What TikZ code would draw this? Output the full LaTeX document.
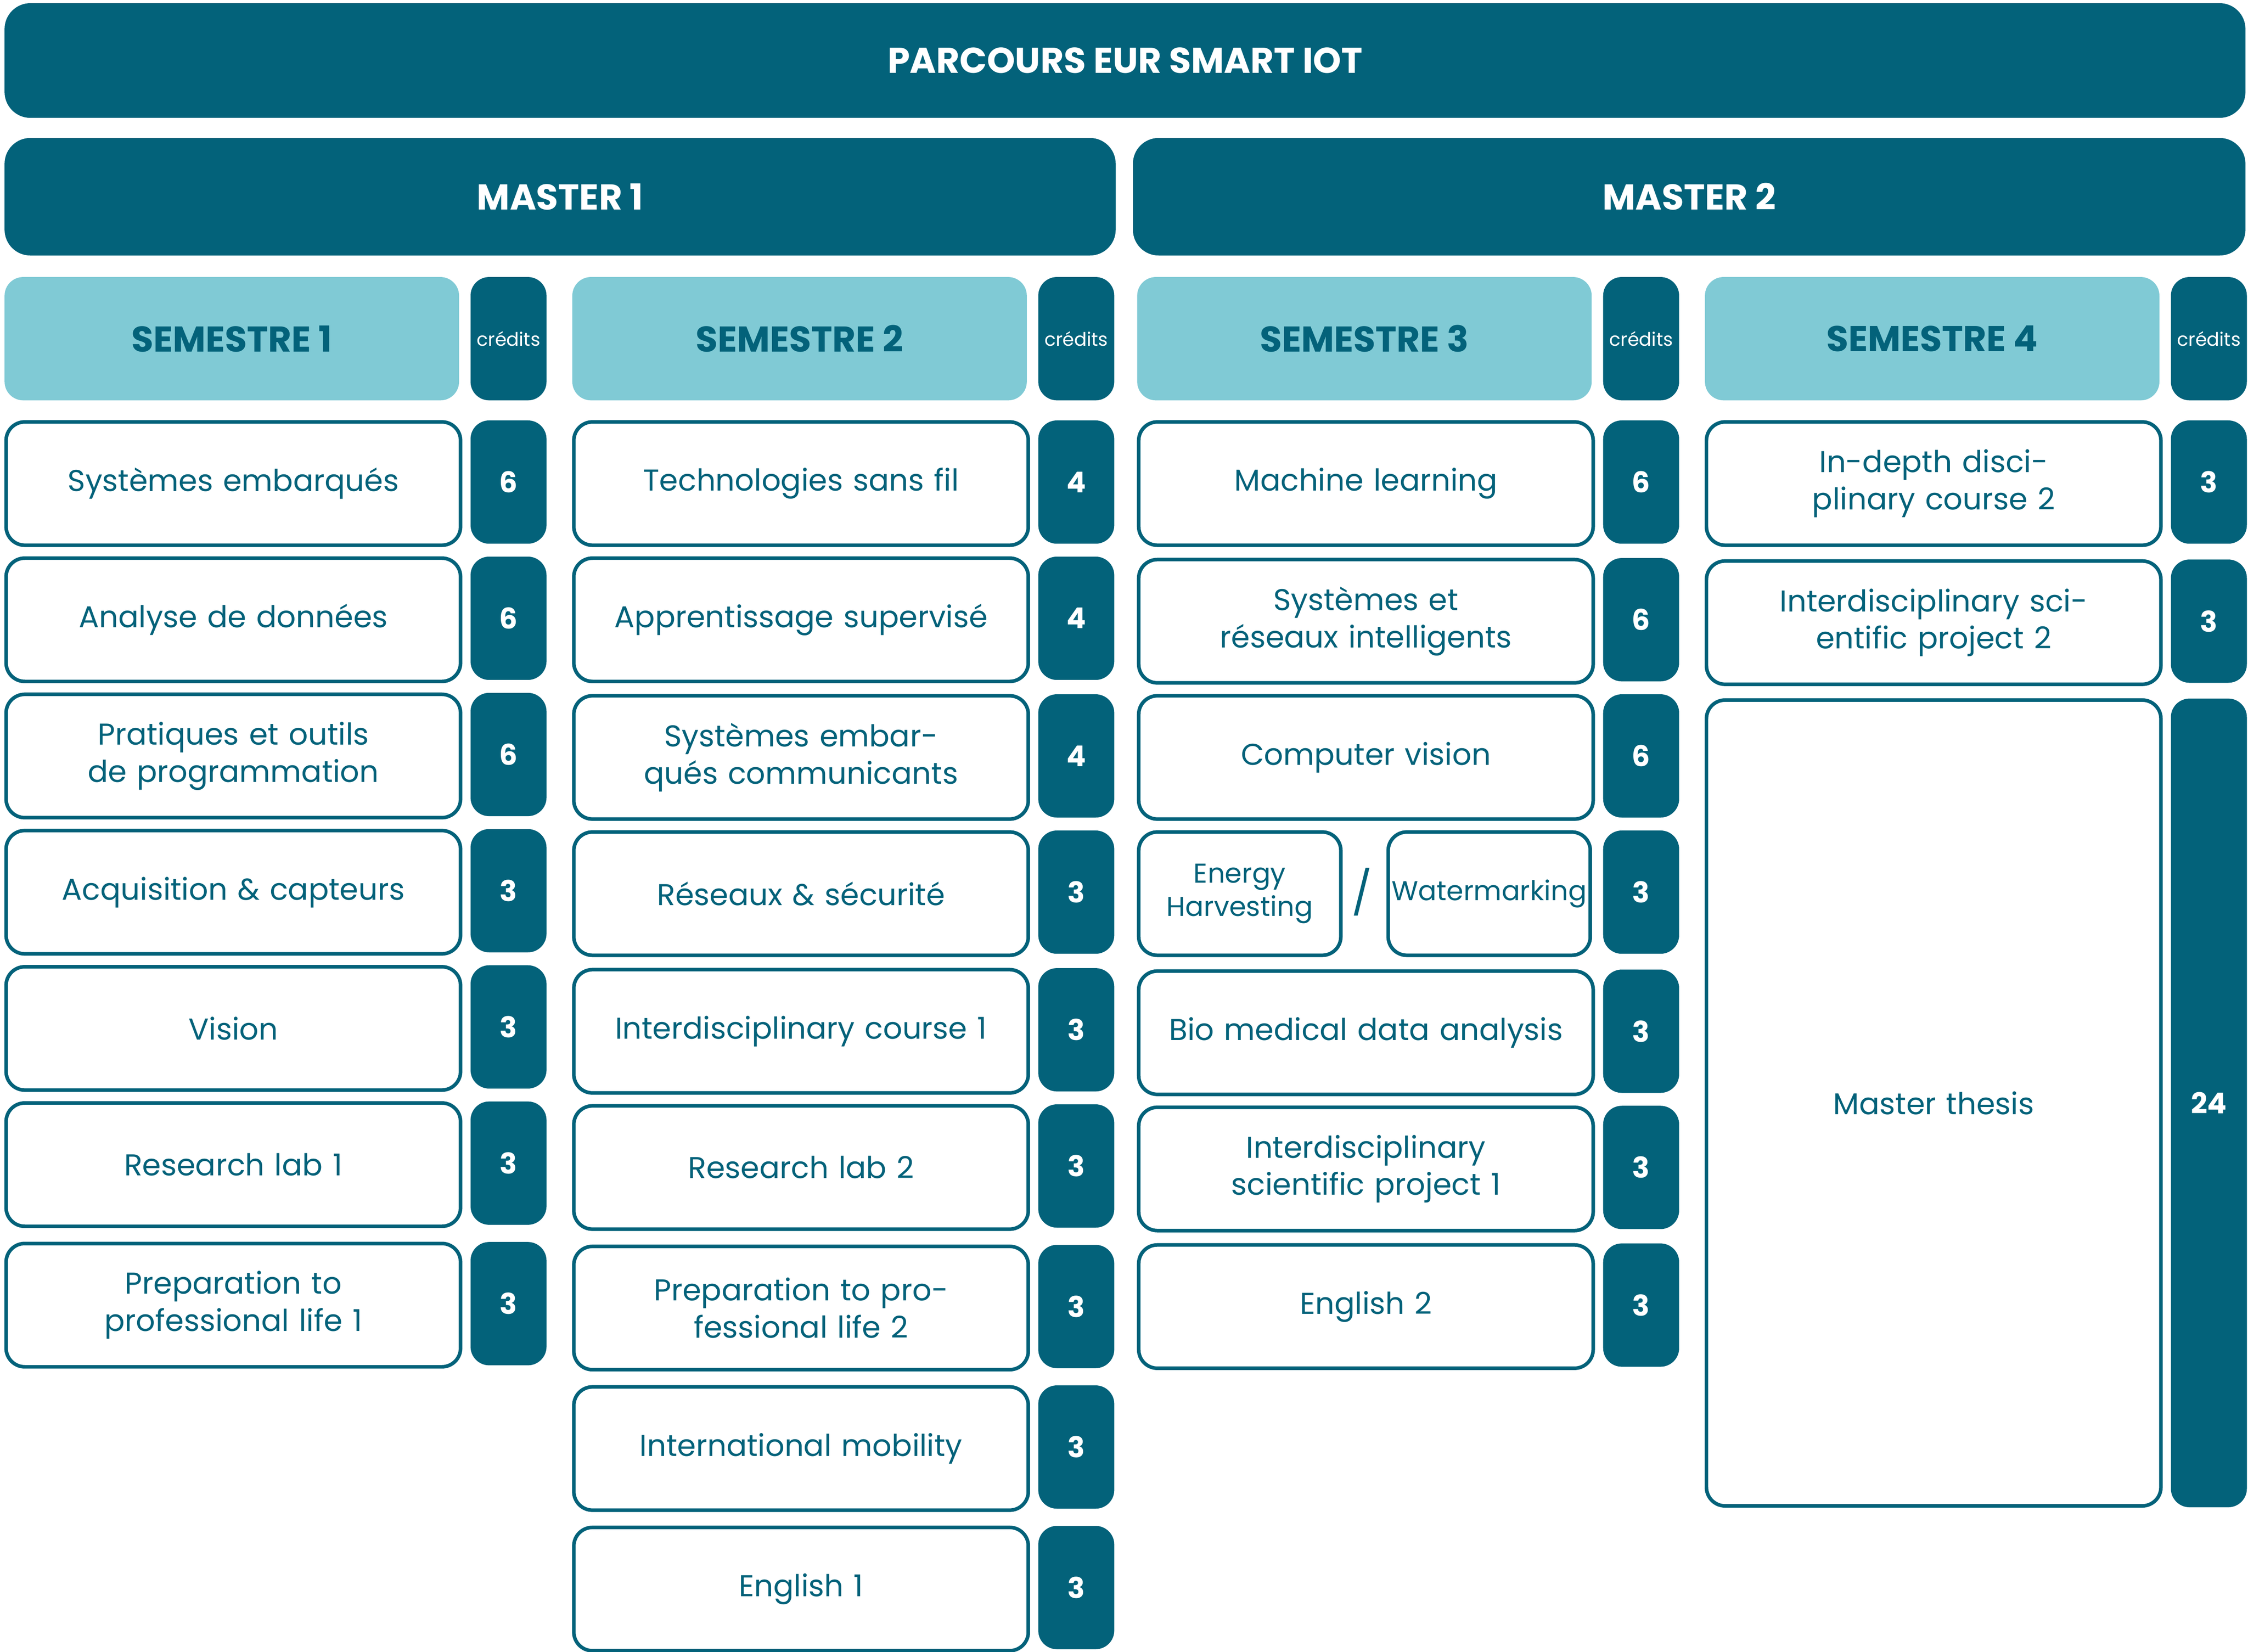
\documentclass[tikz,border=0pt]{standalone}
\usepackage{fontspec}
\setmainfont{Poppins}
\definecolor{dk}{HTML}{03627A}
\definecolor{lt}{HTML}{80CAD5}
\tikzset{
 course/.style={draw=dk,line width=2.5pt,fill=white,rounded corners=13pt,minimum width=317pt,minimum height=86pt,text width=300pt,align=center,text=dk,font=\fontsize{21}{26}\selectfont,inner sep=0pt},
 cred/.style={fill=dk,rounded corners=13pt,minimum width=53pt,minimum height=86pt,text=white,font=\fontsize{20}{24}\selectfont\bfseries,inner sep=0pt},
 bar/.style={fill=dk,rounded corners=18pt,text=white,font=\fontsize{25}{30}\selectfont\bfseries,inner sep=0pt},
 sem/.style={fill=lt,rounded corners=13pt,minimum width=317pt,minimum height=86pt,text=dk,font=\fontsize{25}{30}\selectfont\bfseries,inner sep=0pt},
}
\newcommand\crs[5]{%
 \node[course,anchor=north west] (#3) at (#1,#2) {#4};
 \node[cred,anchor=north west] (#3c) at ($(#1,#2)+(325,0)$) {#5};}
\newcommand\semhd[4]{%
 \node[sem,anchor=north west] (#3) at (#1,#2) {#4};
 \node[cred,anchor=north west,font=\fontsize{13}{15}\selectfont] (#3c) at ($(#1,#2)+(325,0)$) {crédits};}
\usetikzlibrary{calc}
\begin{document}
\begin{tikzpicture}[x=1pt,y=-1pt]
\useasboundingbox (0,0) rectangle (1568,1152);
\node[bar,minimum width=1563pt,minimum height=80pt,anchor=north west] (title) at (3,2) {PARCOURS EUR SMART IOT};
\node[bar,minimum width=775pt,minimum height=82pt,anchor=north west] (m1) at (3,96) {MASTER 1};
\node[bar,minimum width=776pt,minimum height=82pt,anchor=north west] (m2) at (790,96) {MASTER 2};
\semhd{3}{193}{s1}{SEMESTRE 1}
\semhd{399}{193}{s2}{SEMESTRE 2}
\semhd{793}{193}{s3}{SEMESTRE 3}
\semhd{1189}{193}{s4}{SEMESTRE 4}
% S1
\crs{3}{293}{a1}{Systèmes embarqués}{6}
\crs{3}{388}{a2}{Analyse de données}{6}
\crs{3}{483}{a3}{Pratiques et outils de programmation}{6}
\crs{3}{578}{a4}{Acquisition \& capteurs}{3}
\crs{3}{673}{a5}{Vision}{3}
\crs{3}{768}{a6}{Research lab 1}{3}
\crs{3}{866}{a7}{Preparation to professional life 1}{3}
% S2
\crs{399}{293}{b1}{Technologies sans fil}{4}
\crs{399}{388}{b2}{Apprentissage supervisé}{4}
\crs{399}{484}{b3}{Systèmes embarqués communicants}{4}
\crs{399}{579}{b4}{Réseaux \& sécurité}{3}
\crs{399}{675}{b5}{Interdisciplinary course 1}{3}
\crs{399}{770}{b6}{Research lab 2}{3}
\crs{399}{868}{b7}{Preparation to professional life 2}{3}
\crs{399}{966}{b8}{International mobility}{3}
\crs{399}{1064}{b9}{English 1}{3}
% S3
\crs{793}{293}{c1}{Machine learning}{6}
\crs{793}{389}{c2}{Systèmes et réseaux intelligents}{6}
\crs{793}{484}{c3}{Computer vision}{6}
\node[course,minimum width=141pt,text width=135pt,anchor=north west,font=\fontsize{19}{23}\selectfont] (eh) at (793,579) {Energy Harvesting};
\node[course,minimum width=141pt,text width=140pt,anchor=north west,font=\fontsize{19}{23}\selectfont] (wm) at (967,579) {Watermarking};
\node[text=dk,font=\fontsize{30}{30}\selectfont,inner sep=0pt] (sl) at (950,622) {/};
\node[cred,anchor=north west] (c4c) at (1118,579) {3};
\crs{793}{676}{c5}{Bio medical data analysis}{3}
\crs{793}{771}{c6}{Interdisciplinary scientific project 1}{3}
\crs{793}{867}{c7}{English 2}{3}
% S4
\crs{1189}{293}{d1}{In-depth disciplinary course 2}{3}
\crs{1189}{390}{d2}{Interdisciplinary scientific project 2}{3}
\node[course,minimum height=562pt,anchor=north west] (d3) at (1189,487) {Master thesis};
\node[cred,minimum height=564pt,anchor=north west] (d3c) at (1514,487) {24};
\end{tikzpicture}
\end{document}
